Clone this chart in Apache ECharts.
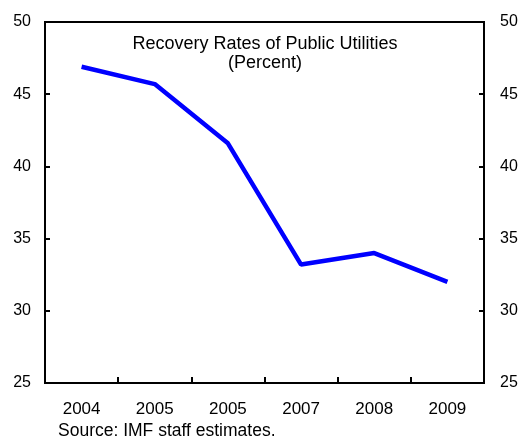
<!DOCTYPE html>
<html><head><meta charset="utf-8">
<script src="https://cdn.jsdelivr.net/npm/echarts@6/dist/echarts.min.js"></script>
<style>html,body{margin:0;padding:0;background:#fff}#c{width:524px;height:443px}</style>
</head><body><div id="c"></div>
<script>
const categories = ['2004', '2005', '2005', '2007', '2008', '2009'];
const recoveryRates = [46.9, 45.7, 41.6, 33.2, 34.0, 32.0];
const yTicks = [25, 30, 35, 40, 45, 50];
const titleLines = ['Recovery Rates of Public Utilities', '(Percent)'];
const sourceNote = 'Source: IMF staff estimates.';

const font = 'Arial, "Liberation Sans", sans-serif';
const chart = echarts.init(document.getElementById('c'));
const yAxisBase = {
  type: 'value', min: yTicks[0], max: yTicks[yTicks.length - 1], interval: 5,
  axisLine: { show: true, lineStyle: { color: '#000', width: 2 } },
  axisTick: { show: true, inside: true, length: 5, lineStyle: { color: '#000', width: 2 } },
  axisLabel: { color: '#000', fontSize: 16, fontFamily: font },
  splitLine: { show: false }
};
chart.setOption({
  animation: false,
  grid: { left: 45, right: 40, top: 22, bottom: 60, show: true, borderColor: '#000', borderWidth: 2, backgroundColor: 'transparent' },
  xAxis: {
    type: 'category', data: categories, boundaryGap: true,
    axisLine: { lineStyle: { color: '#000', width: 2 } },
    axisTick: { show: true, inside: true, length: 6, lineStyle: { color: '#000', width: 2 } },
    axisLabel: { color: '#000', fontSize: 17, fontFamily: font, margin: 18 }
  },
  yAxis: [
    Object.assign({}, yAxisBase, { position: 'left', axisLabel: Object.assign({}, yAxisBase.axisLabel, { margin: 14 }) }),
    Object.assign({}, yAxisBase, { position: 'right', axisLabel: Object.assign({}, yAxisBase.axisLabel, { margin: 16 }) })
  ],
  series: [{
    type: 'line', data: recoveryRates, yAxisIndex: 0,
    symbol: 'none', lineStyle: { color: '#0000ff', width: 4.5 }
  }],
  graphic: [
    { type: 'text', x: 265, y: 35, style: { text: titleLines.join('\n'), textAlign: 'center', textVerticalAlign: 'top', fill: '#000', fontSize: 18, fontFamily: font, lineHeight: 19 } },
    { type: 'text', x: 58, y: 422, style: { text: sourceNote, textVerticalAlign: 'top', fill: '#000', fontSize: 17.5, fontFamily: font } }
  ]
});
</script></body></html>
